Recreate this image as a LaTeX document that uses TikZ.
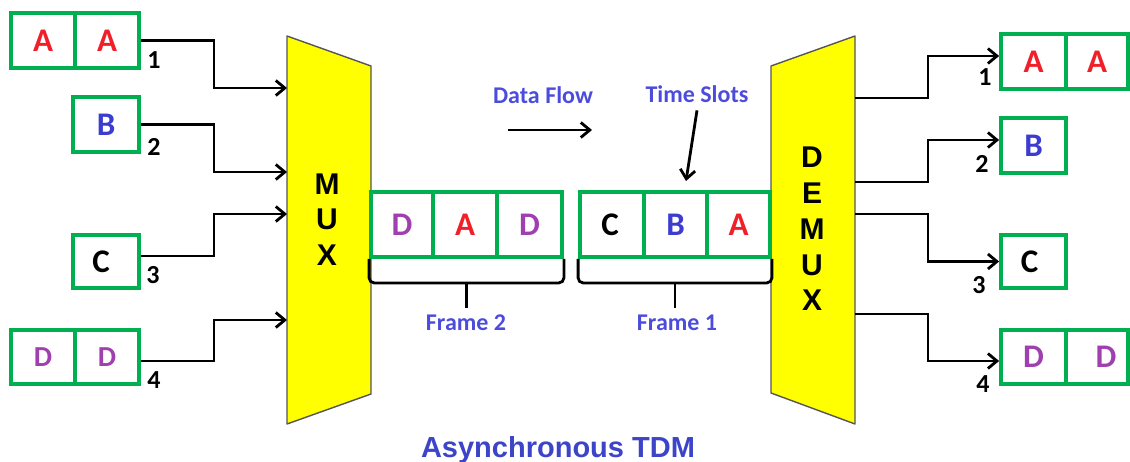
\documentclass[tikz,border=0pt]{standalone}
\usepackage{fontspec}
\setmainfont{Carlito}
\newfontfamily\arialfont{Liberation Sans}
\usetikzlibrary{arrows.meta,calc}

\definecolor{boxgreen}{HTML}{00B050}
\definecolor{letred}{HTML}{F0202A}
\definecolor{letblue}{HTML}{3C3CD0}
\definecolor{letpurple}{HTML}{A040B0}
\definecolor{lblblue}{HTML}{4C4CDC}
\definecolor{ttlblue}{HTML}{3C44C8}
\definecolor{muxyellow}{HTML}{FFFF00}
\definecolor{muxedge}{HTML}{555555}

\begin{document}
\begin{tikzpicture}[x=1pt,y=-1pt,
  cell/.style={draw=boxgreen, line width=3.8pt, minimum width=64pt, minimum height=55pt,
    inner sep=0pt, font=\fontsize{33}{33}\selectfont\bfseries, text height=21pt, text depth=0pt},
  smallD/.style={font=\fontsize{29}{29}\selectfont\bfseries, text height=18pt},
  conn/.style={line width=2.8pt, -{Straight Barb[length=9pt,width=15pt]}},
  port/.style={font=\fontsize{26}{26}\selectfont\bfseries, anchor=base, inner sep=0pt},
  lbl/.style={font=\fontsize{24}{24}\selectfont\bfseries, text=lblblue, anchor=base, inner sep=0pt},
  muxbody/.style={fill=muxyellow, draw=muxedge, line width=1.4pt, line join=round},
  muxtxt/.style={font=\arialfont\bfseries\fontsize{30}{35.7}\selectfont, align=center, inner sep=0pt},
  brace/.style={line width=2.8pt, rounded corners=5pt}]

\useasboundingbox (0,0) rectangle (1130,461);

% multiplexer and demultiplexer bodies
\draw[muxbody] (287,36) -- (371,66) -- (371,394) -- (287,424) -- cycle;
\draw[muxbody] (771,66) -- (855,36) -- (855,424) -- (771,393) -- cycle;
\node[muxtxt] (muxlbl) at (327,219.5) {M\\U\\X};
\node[muxtxt] (demuxlbl) at (812,229) {D\\E\\M\\U\\X};

% ports on the multiplexer / demultiplexer edges
\coordinate (m1) at (287,88);
\coordinate (m2) at (287,172);
\coordinate (m3) at (287,214);
\coordinate (m4) at (287,320);
\coordinate (o1) at (855,98);
\coordinate (o2) at (855,182);
\coordinate (o3) at (855,214);
\coordinate (o4) at (855,314);

% input queues
\node[cell, text=letred] (a1a) at (43,40.5) {A};
\node[cell, text=letred] (a1b) at (107,40.5) {A};
\node[cell, text=letblue, minimum width=66pt] (b1) at (106,124.5) {B};
\node[cell, text=black, minimum width=66pt, minimum height=53pt] (c1) at (106,261.5) {\hspace*{-10pt}C};
\node[cell, smallD, text=letpurple, minimum height=54pt] (d1a) at (43,357) {D};
\node[cell, smallD, text=letpurple, minimum height=54pt] (d1b) at (107,357) {D};

% output queues
\node[cell, text=letred, minimum width=65pt] (a2a) at (1033.5,61.5) {A};
\node[cell, text=letred, minimum width=62pt] (a2b) at (1097,61.5) {A};
\node[cell, text=letblue, minimum width=65pt] (b2) at (1033.5,145.5) {B};
\node[cell, text=black, minimum width=65pt, minimum height=53pt] (c2) at (1033.5,261.5) {\hspace*{-8pt}C};
\node[cell, text=letpurple, minimum width=65pt, minimum height=54pt] (d2a) at (1033.5,357) {D};
\node[cell, text=letpurple, minimum width=62pt, minimum height=54pt] (d2b) at (1097,357) {\hspace*{18pt}D};

% frames on the link
\node[cell, text=letpurple, minimum width=62pt, minimum height=65pt] (f2a) at (402,224.5) {D};
\node[cell, text=letred, minimum height=65pt] (f2b) at (465,224.5) {A};
\node[cell, text=letpurple, minimum width=65pt, minimum height=65pt] (f2c) at (529.5,224.5) {D};
\node[cell, text=black, minimum height=65pt] (f1a) at (612,224.5) {\hspace*{-4pt}C};
\node[cell, text=letblue, minimum width=63pt, minimum height=65pt] (f1b) at (675.5,224.5) {B};
\node[cell, text=letred, minimum width=63pt, minimum height=65pt] (f1c) at (738.5,224.5) {A};

% input connectors
\draw[conn] (a1b.east) -- ++(73,0) |- (m1);
\draw[conn] (b1.east) -- ++(73,0) |- (m2);
\draw[conn] ([yshift=5.5pt]c1.east) -- ++(73,0) |- (m3);
\draw[conn] ([yshift=-4pt]d1b.east) -- ++(73,0) |- (m4);

% output connectors
\draw[conn] (o1) -- ++(73,0) |- ([yshift=5.5pt]a2a.west);
\draw[conn] (o2) -- ++(73,0) |- ([yshift=5.5pt]b2.west);
\draw[conn] (o3) -- ++(73,0) |- (c2.west);
\draw[conn] (o4) -- ++(73,0) |- ([yshift=-4pt]d2a.west);

% line numbers
\node[port] (n1) at (154,68) {1};
\node[port] (n2) at (154,155) {2};
\node[port] (n3) at (153,283) {3};
\node[port] (n4) at (154,388) {4};
\node[port] (r1) at (985,85) {1};
\node[port] (r2) at (982,172) {2};
\node[port] (r3) at (979,293) {3};
\node[port] (r4) at (983,392) {4};

% frame braces
\draw[brace] (f2a.south west) -- ++(0,24) -| (f2c.south east);
\draw[brace] ($(f2a.south west)!0.5!(f2c.south east)+(0,24)$) -- ++(0,25);
\draw[brace] (f1a.south west) -- ++(0,24) -| (f1c.south east);
\draw[brace] ($(f1a.south west)!0.5!(f1c.south east)+(0,24)$) -- ++(0,25);
\node[lbl] (fr2) at (466,330) {Frame 2};
\node[lbl] (fr1) at (677,330) {Frame 1};

% data flow direction
\node[lbl] (df) at (543,103) {Data Flow};
\coordinate (df1) at (508,130);
\coordinate (df2) at (592,130);
\draw[conn] (df1) -- (df2);

% time slot pointer
\node[lbl] (ts) at (697,102) {Time Slots};
\coordinate (tsend) at (686,181);
\draw[conn] ([yshift=-8pt]ts.south) -- (tsend);

% caption
\node[font=\arialfont\bfseries\fontsize{29}{29}\selectfont, text=ttlblue, anchor=base, inner sep=0pt] (title) at (558,457) {Asynchronous TDM};

\end{tikzpicture}
\end{document}
